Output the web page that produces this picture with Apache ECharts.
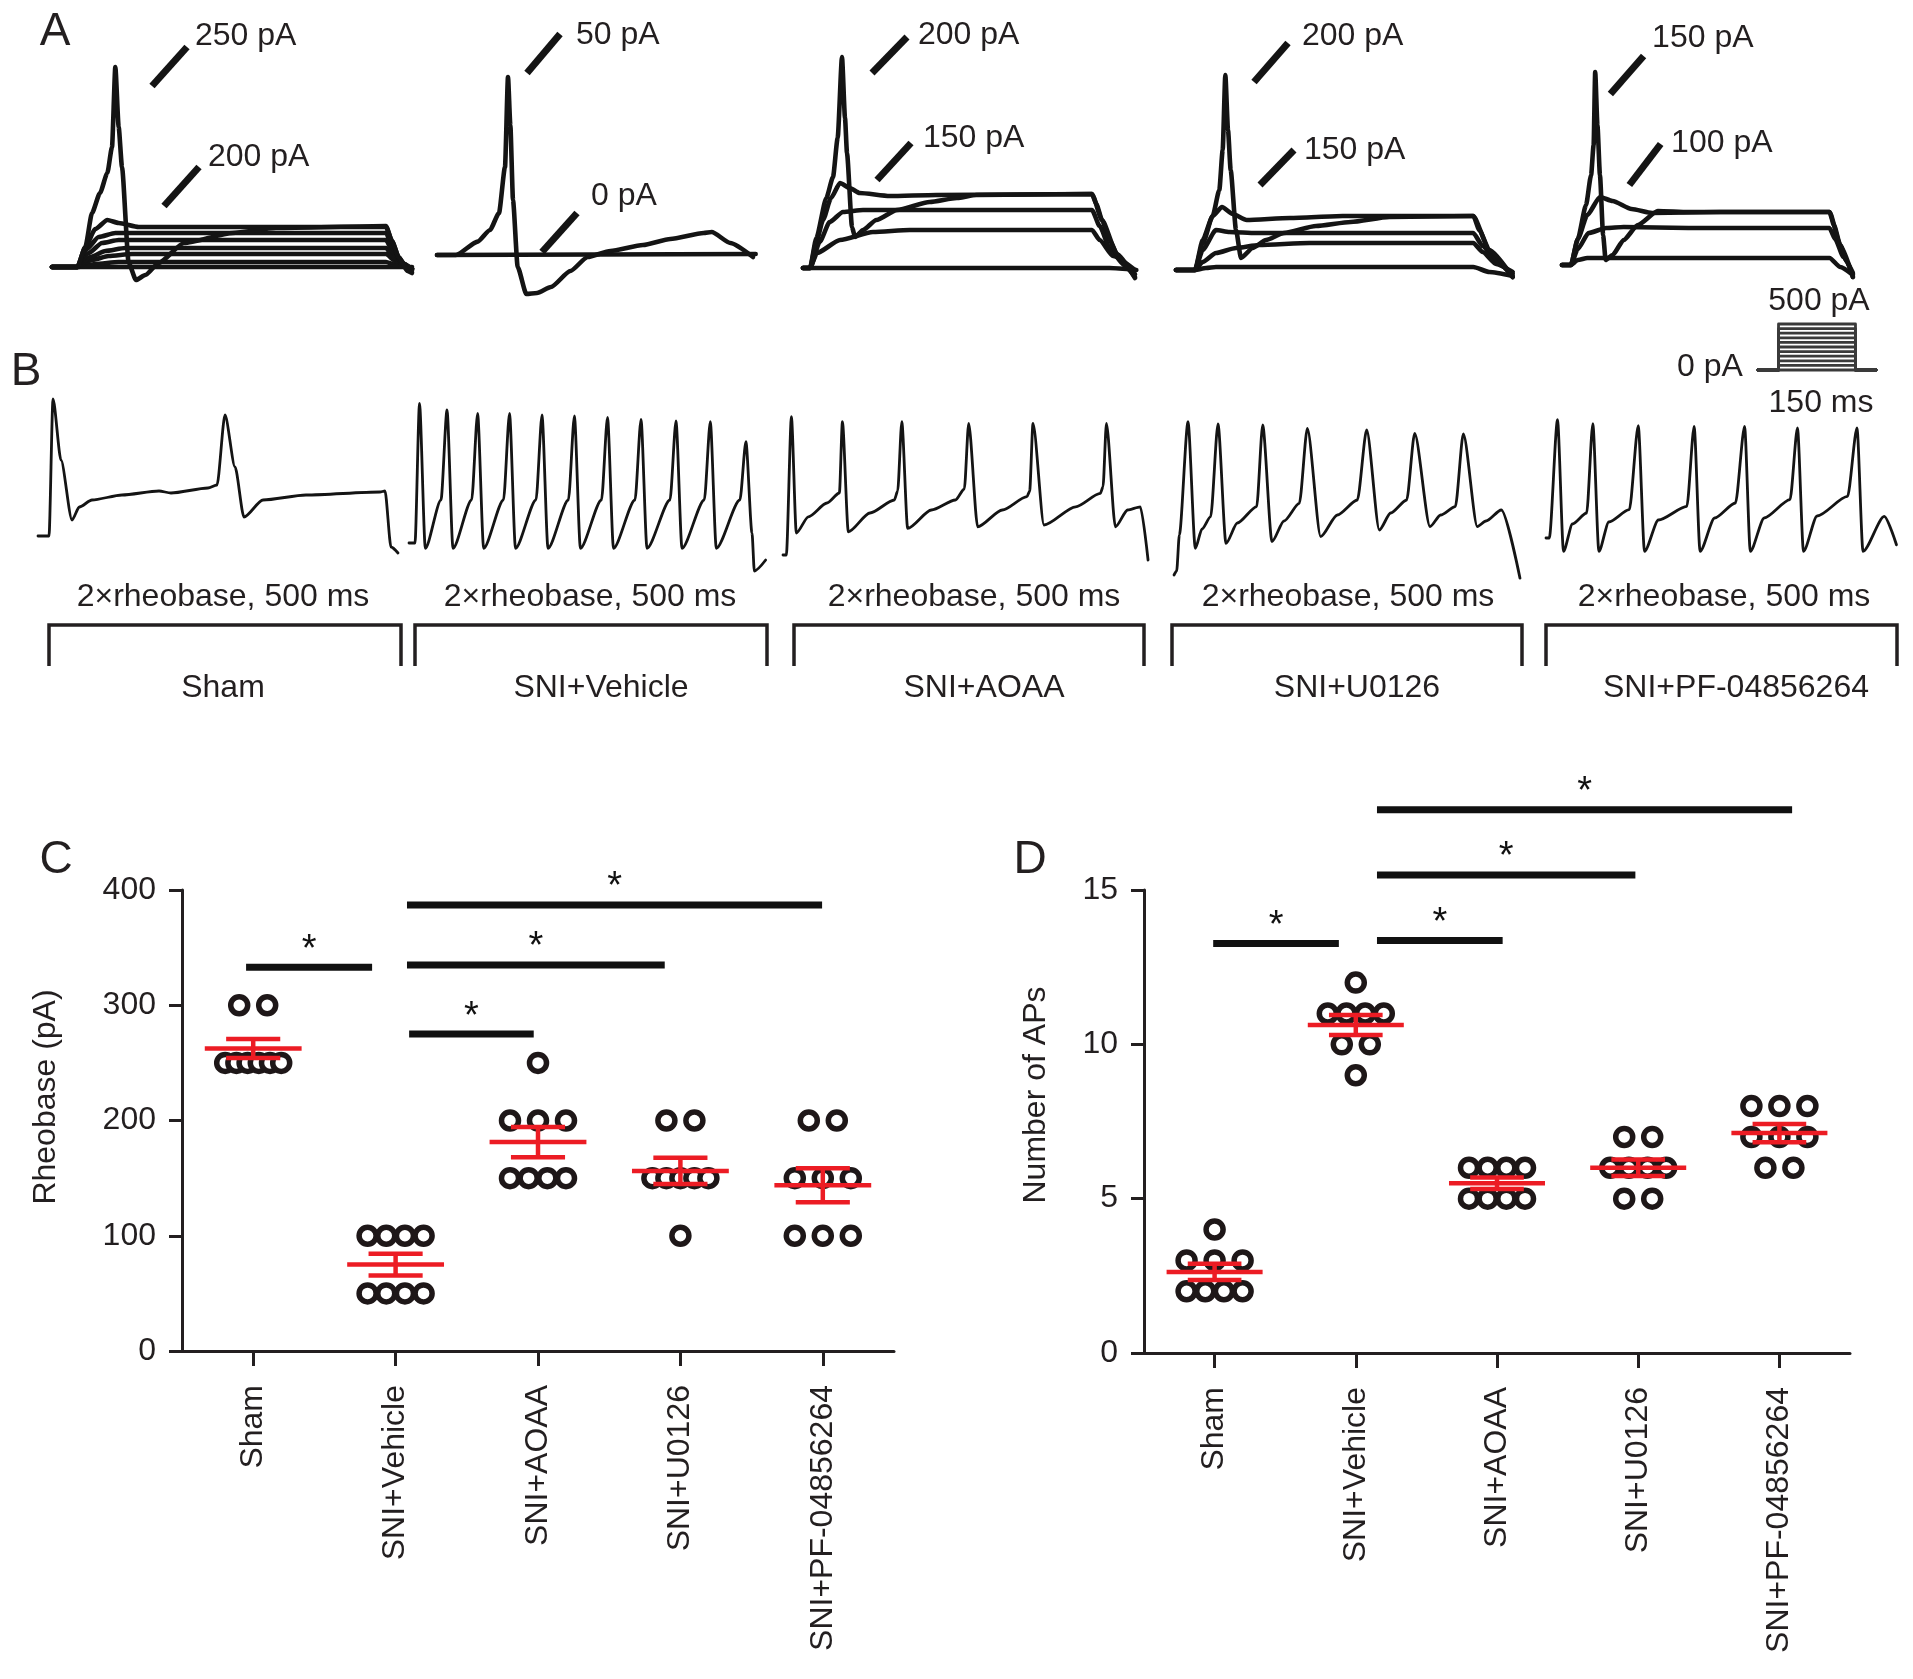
<!DOCTYPE html>
<html><head><meta charset="utf-8">
<script src="https://cdn.jsdelivr.net/npm/echarts@6/dist/echarts.min.js"></script>
<style>html,body{margin:0;padding:0;background:#fff}#c{width:1913px;height:1679px}</style>
</head><body><div id="c"></div><script>
// ---------------- DATA ----------------
const groups = ['Sham', 'SNI+Vehicle', 'SNI+AOAA', 'SNI+U0126', 'SNI+PF-04856264'];

// Panel C: rheobase (pA), one value per neuron
const rheoSham    = [300, 300, 250, 250, 250, 250, 250, 250];
const rheoVehicle = [100, 100, 100, 100, 50, 50, 50, 50];
const rheoAOAA    = [250, 200, 200, 200, 150, 150, 150, 150];
const rheoU0126   = [200, 200, 150, 150, 150, 150, 150, 100];
const rheoPF      = [200, 200, 150, 150, 150, 100, 100, 100];
const rheoTicks   = [0, 100, 200, 300, 400];

// Panel D: number of APs, one value per neuron
const apSham    = [4, 3, 3, 3, 2, 2, 2, 2];
const apVehicle = [12, 11, 11, 11, 11, 10, 10, 9];
const apAOAA    = [6, 6, 6, 6, 5, 5, 5, 5];
const apU0126   = [7, 7, 6, 6, 6, 6, 5, 5];
const apPF      = [8, 8, 8, 7, 7, 7, 6, 6];
const apTicks   = [0, 5, 10, 15];

// significance comparisons: [from group, to group, bar height]
const sigC = [[0, 1, 333], [1, 2, 275], [1, 3, 335], [1, 4, 387]];
const sigD = [[0, 1, 13.27], [1, 2, 13.36], [1, 3, 15.49], [1, 4, 17.6]];

// Panel A: membrane potential traces [time ms, mV]
const aShamSpike = [[0,-65],[38,-65],[50,-55],[60,-38],[72,-28],[83,-18],[90,-5],[95,35],[100,5],[105,-15],[115,-63],[126,-71.5],[140,-69],[160,-63],[198,-53],[271,-48],[336,-45.5],[501,-44.5],[510,-52],[520,-60],[533,-67],[540,-68]];
const aShamSub1 = [[0,-65],[38,-65],[50,-55],[65,-46],[83,-41.5],[100,-43],[130,-45],[501,-45],[510,-52],[520,-60],[533,-66],[540,-67]];
const aShamSub2 = [[0,-65],[38,-65],[52,-56],[70,-50],[95,-48],[501,-48],[512,-56],[525,-63],[540,-66]];
const aShamSub3 = [[0,-65],[38,-65],[55,-58],[75,-53],[100,-51.5],[501,-51.5],[512,-58],[525,-63],[540,-66]];
const aShamSub4 = [[0,-65],[38,-65],[58,-60],[80,-57],[110,-55.5],[501,-55.5],[512,-60],[527,-64],[540,-66]];
const aShamSub5 = [[0,-65],[38,-65],[60,-61.5],[85,-59.5],[120,-58.5],[501,-58.5],[515,-62],[540,-66]];
const aShamSub6 = [[0,-65],[38,-65],[65,-63.5],[100,-62.5],[501,-62.5],[515,-64],[540,-66]];
const aShamBase = [[0,-65],[540,-65]];

const aVehSpike = [[0,-65],[28.5,-65],[61,-58.3],[79.5,-52.5],[93,-44],[102,-21],[106.5,24],[110,0],[114,-37.5],[121,-71],[134,-84.5],[150,-84],[171,-81],[200,-73],[226,-66],[260,-63],[309,-60],[350,-57],[400,-54],[412,-53.5],[440,-59],[474,-66]];
const aVehBase = [[0,-65],[478,-64.5]];

const aAoaaSpike = [[0,-65],[10.5,-65],[20,-50],[35,-30],[45,-19.5],[52,0],[58.5,40.5],[63,10],[66,-7.5],[73.5,-44.5],[78,-49.5],[90,-46],[110,-41],[141,-36],[190,-32],[231,-30],[260,-28.5],[433.5,-28],[448.5,-41],[471,-58],[498,-70]];
const aAoaaSub1 = [[0,-65],[10.5,-65],[20,-52],[30,-41],[42,-30],[55.5,-22.5],[70,-25],[85,-27.5],[130,-29],[200,-28.5],[433.5,-28],[440,-33],[448.5,-41],[460,-51],[471,-58],[485,-65],[498,-69.5]];
const aAoaaSub2 = [[0,-65],[10.5,-65],[25,-52],[40,-42],[60,-37],[90,-36],[433.5,-36],[445,-44],[460,-55],[480,-63],[498,-68]];
const aAoaaSub3 = [[0,-65],[10.5,-65],[21,-57.5],[55.5,-51],[105,-47],[160,-46],[433.5,-46],[445,-51],[465,-59],[498,-66]];
const aAoaaBase = [[0,-65],[460,-65],[500,-66]];

const aU0126Spike = [[0,-65],[28.5,-65],[40,-52],[55,-38],[65,-25],[70,-5],[74,32.5],[78,5],[82,-15],[90,-45],[97.5,-59],[115,-54],[135,-50],[162,-46.5],[210,-43],[262,-41],[320,-38.5],[446,-38],[470,-55],[505,-68.5]];
const aU0126Sub1 = [[0,-65],[28.5,-65],[40,-50],[55,-38],[69,-33.5],[85,-37],[106,-40],[171,-39],[250,-38],[446,-38],[455,-45],[470,-55],[485,-62],[505,-68.5]];
const aU0126Sub2 = [[0,-65],[28.5,-65],[40,-55],[60,-45],[80,-46],[120,-46.5],[446,-46.5],[460,-53],[480,-61],[505,-67]];
const aU0126Sub3 = [[0,-65],[28.5,-65],[40,-61],[60,-56.5],[90,-54],[124.5,-52.5],[200,-51.5],[446,-51.5],[460,-56],[480,-62],[505,-66]];
const aU0126Base = [[0,-65],[28.5,-65],[45,-64],[60,-63.5],[446,-63.5],[470,-66],[505,-68]];

const aPfSpike = [[0,-65],[14,-65],[25,-52],[38,-35],[46,-20],[50,-5],[52.5,31.5],[56,5],[60,-20],[65,-50],[69,-62.5],[80,-60],[97.5,-52.5],[120,-45],[151.5,-38],[200,-38.5],[423,-38.5],[440,-55],[460,-71]];
const aPfSub1 = [[0,-65],[14,-65],[25,-52],[40,-40],[60,-31],[80,-33],[110,-37],[142.5,-39],[250,-38.5],[423,-38.5],[430,-45],[440,-55],[450,-63],[460,-71]];
const aPfSub2 = [[0,-65],[14,-65],[25,-57],[42,-49],[70,-46.5],[97.5,-46],[200,-46.5],[423,-46.5],[432,-52],[445,-61],[460,-69]];
const aPfBase = [[0,-65],[14,-65],[25,-62.5],[40,-61.5],[423,-61.5],[440,-66],[460,-70]];

// Panel A pointer labels: [t1, v1, t2, v2, text t, text v, label]
const annSham  = [[150,25.5,202.5,45,214.5,50.5,'250 pA'],[168,-34.5,220.5,-15,234,-10,'200 pA']];
const annVeh   = [[135,26,184.5,45.5,208.5,45,'50 pA'],[157.5,-63.5,210,-44,231,-35.5,'0 pA']];
const annAoaa  = [[103.5,32.5,156,50.5,172.5,51.5,'200 pA'],[111,-21,162,-2.5,180,0,'150 pA']];
const annU0126 = [[117,29,168,48.5,189,52,'200 pA'],[126,-22.5,177,-5,192,-5,'150 pA']];
const annPf    = [[76.5,20.5,129,39.5,142.5,48.5,'150 pA'],[106.5,-25,156,-4.5,172.5,-4,'100 pA']];

// Panel B: AP trains at 2x rheobase [time ms, mV]
const bSham = [[0,-65],[16.5,-65],[22.5,3.5],[34.5,-27],[51,-57],[62,-50.5],[81,-47],[126,-44.5],[181.5,-42.5],[199.5,-43.5],[255,-41],[268.5,-39.5],[280.5,-4.5],[295.5,-30.5],[309,-55.5],[337.5,-47],[402,-44.5],[513,-43],[520.5,-42.5],[529.5,-70.5],[540,-73.5]];
const bVehicle = [[0,-65],[9,-65],[15.75,4.85],[24.5,-67.65],[48,-43.5],[57,1.5],[66,-67.65],[94,-43.5],[102.9,-0.15],[112,-67.65],[141.75,-43.5],[150.75,-0.15],[159.75,-67.65],[190.5,-43.5],[199.5,-1],[208.5,-67.65],[239.1,-43.5],[248.1,-1.5],[257.1,-67.65],[288.75,-43.5],[297.75,-2.15],[306.75,-67.65],[339,-43.5],[348,-3.15],[357,-67.65],[391.5,-43.5],[400.5,-4],[409.5,-67.65],[442.95,-43.5],[451.95,-4.35],[460.95,-67.65],[496.35,-43.5],[505.35,-14.35],[514.5,-60],[518,-79],[535,-73.5]];
const bAOAA = [[0,-65],[5,-65],[12.6,4.15],[20,-54],[38,-45.9],[66,-39],[84.6,-34],[89.1,1.65],[98,-53.4],[130.5,-44],[167,-37.5],[172,-33],[178.2,1.65],[187,-51.7],[222.6,-42.5],[258.6,-37.5],[272,-32],[278.5,0.85],[292,-50.9],[329,-42.5],[366,-35.8],[370,-33],[375,0.85],[391.5,-50],[439,-40.9],[476,-34.2],[480,-31],[485.1,0.85],[498.6,-50.9],[517,-42.5],[536,-40.9],[547.6,-67.5]];
const bU0126 = [[0,-65],[4,-63],[8,-45],[21,11.65],[32,-51.7],[42,-42],[55,-35.8],[66,10.5],[78,-49.2],[95,-39],[124,-30.8],[133,10],[147,-48.3],[165,-38],[188,-29.2],[200,8.3],[220,-45.8],[245,-35],[275,-27.5],[289,7.5],[308,-42.5],[325,-34],[349,-27.5],[361,5.8],[384,-40.8],[400,-35],[422,-30.8],[434,5.5],[455,-40.8],[468,-38],[491,-32.5],[519,-66.6]];
const bPF = [[0,-65],[5,-65],[17.4,-5.85],[26.5,-71.7],[40,-58],[61.5,-52.5],[70.8,-7.85],[80,-71.7],[95,-57],[126,-50.85],[139.5,-8.85],[149,-71.7],[170,-56],[213,-49.2],[224,-9.2],[233,-71.7],[255,-55],[286.5,-47.5],[300.3,-9.2],[309,-71.7],[330,-55],[369,-45.85],[380.3,-10],[389.4,-71.7],[410,-54],[456,-44.2],[470.3,-10],[479.4,-71.7],[511.5,-54.2],[530,-68.4]];

// stimulus protocol inset: current steps (pA) and timing (ms)
const stepLevels = [0, 50, 100, 150, 200, 250, 300, 350, 400, 450, 500];
const stepTiming = [0, 40, 190, 230]; // start, onset, offset, end

// ---------------- LAYOUT / STYLE ----------------
const FONT = '"Liberation Sans", Arial, Helvetica, sans-serif';
const INK = '#231f20';
const TRACE = '#141414';
const RED = '#ec1c24';
const layoutA = [{left:52, base:267},{left:437, base:255},{left:803, base:268},{left:1176, base:270},{left:1562, base:265}];
const layoutB = [{left:38, base:536},{left:409, base:543},{left:783, base:555},{left:1174, base:575},{left:1546, base:538}];
// significance bar end offsets (in category widths) relative to the compared groups
const sigEndsC = [[-0.05, -0.165], [0.095, -0.03], [0.08, -0.11], [0.08, -0.005]];
const sigEndsD = [[-0.01, -0.12], [0.15, 0.04], [0.15, -0.02], [0.15, 0.09]];

const tracesA = [
  [aShamBase, aShamSub6, aShamSub5, aShamSub4, aShamSub3, aShamSub2, aShamSub1, aShamSpike],
  [aVehBase, aVehSpike],
  [aAoaaBase, aAoaaSub3, aAoaaSub2, aAoaaSub1, aAoaaSpike],
  [aU0126Base, aU0126Sub3, aU0126Sub2, aU0126Sub1, aU0126Spike],
  [aPfBase, aPfSub2, aPfSub1, aPfSpike]
];
const annsA = [annSham, annVeh, annAoaa, annU0126, annPf];
const tracesB = [bSham, bVehicle, bAOAA, bU0126, bPF];

const grids = [], xAxes = [], yAxes = [], series = [];
function hiddenAxes(gi, xmin, xmax, ymin, ymax) {
  xAxes.push({type:'value', gridIndex:gi, min:xmin, max:xmax, show:false});
  yAxes.push({type:'value', gridIndex:gi, min:ymin, max:ymax, show:false});
}
function traceSeries(data, gi, lw, color, smooth) {
  return {type:'line', xAxisIndex:gi, yAxisIndex:gi, data, symbol:'none', showSymbol:false,
    smooth: smooth || false, smoothMonotone: smooth ? 'x' : undefined,
    lineStyle:{color: color || TRACE, width:lw, join:'round', cap:'round'}, clip:false, silent:true, z:2};
}
// Panel A grids (2 px per mV, 1.5 ms per px)
layoutA.forEach(L => {
  grids.push({left:L.left, top:L.base - 250, width:370, height:310});
  hiddenAxes(grids.length - 1, 0, 555, -95, 60);
});
// Panel B grids
layoutB.forEach(L => {
  grids.push({left:L.left, top:L.base - 170, width:370, height:220});
  hiddenAxes(grids.length - 1, 0, 555, -90, 20);
});
// stimulus inset grid
grids.push({left:1758, top:324, width:118, height:46});
hiddenAxes(10, stepTiming[0], stepTiming[3], 0, 500);

tracesA.forEach((list, gi) => list.forEach(d => series.push(traceSeries(d, gi, 4.6, TRACE, 0.2))));
annsA.forEach((anns, gi) => {
  series.push({type:'custom', xAxisIndex:gi, yAxisIndex:gi, clip:false, silent:true, z:3,
    data: anns.map(a => [a[0], a[1], a[2], a[3]]),
    renderItem: (params, api) => {
      const a = anns[params.dataIndex];
      const p1 = api.coord([a[0], a[1]]), p2 = api.coord([a[2], a[3]]), pt = api.coord([a[4], a[5]]);
      return {type:'group', children:[
        {type:'line', shape:{x1:p1[0], y1:p1[1], x2:p2[0], y2:p2[1]}, style:{stroke:TRACE, lineWidth:7}},
        {type:'text', x:pt[0], y:pt[1], style:{text:a[6], font:'32px ' + FONT, fill:INK, align:'left', verticalAlign:'middle'}}
      ]};
    }});
});
tracesB.forEach((d, k) => series.push(traceSeries(d, 5 + k, 2.8, TRACE, 0.25)));
stepLevels.forEach(Lv => {
  const t = stepTiming;
  series.push(traceSeries([[t[0],0],[t[1],0],[t[1],Lv],[t[2],Lv],[t[2],0],[t[3],0]], 10, 2.8, '#3a3a3a'));
});

// ---- Panels C and D ----
function swarm(values, gi) {
  const byVal = {};
  values.forEach(v => { (byVal[v] = byVal[v] || []).push(v); });
  const out = [];
  Object.keys(byVal).forEach(k => {
    const n = byVal[k].length;
    const sp = n > 1 ? Math.min(28, 56 / (n - 1)) : 0;
    for (let j = 0; j < n; j++) out.push({value:[gi, Number(k)], symbolOffset:[(j - (n - 1) / 2) * sp, 0]});
  });
  return out;
}
function meanSem(v) {
  const n = v.length, m = v.reduce((a, b) => a + b, 0) / n;
  const sd = Math.sqrt(v.reduce((a, b) => a + (b - m) * (b - m), 0) / (n - 1));
  return [m, sd / Math.sqrt(n)];
}
function dotPanel(gi, sets, sig, ends) {
  const pts = [];
  sets.forEach((vals, i) => pts.push(...swarm(vals, i)));
  series.push({type:'scatter', xAxisIndex:gi, yAxisIndex:gi, data:pts, symbol:'circle', symbolSize:17,
    itemStyle:{color:'#ffffff', borderColor:'#1e1718', borderWidth:5.5, opacity:1}, z:3, silent:true});
  const stats = sets.map((vals, i) => { const s = meanSem(vals); return [i, s[0], s[1]]; });
  series.push({type:'custom', xAxisIndex:gi, yAxisIndex:gi, data:stats, z:4, silent:true, clip:false,
    renderItem: (params, api) => {
      const i = api.value(0), m = api.value(1), e = api.value(2);
      const c = api.coord([i, m]); const band = api.size([1, 0])[0];
      const hi = api.coord([i, m + e])[1], lo = api.coord([i, m - e])[1];
      const st = {stroke:RED, lineWidth:4.5};
      return {type:'group', children:[
        {type:'line', shape:{x1:c[0] - 0.34 * band, y1:c[1], x2:c[0] + 0.34 * band, y2:c[1]}, style:st},
        {type:'line', shape:{x1:c[0] - 0.19 * band, y1:hi, x2:c[0] + 0.19 * band, y2:hi}, style:st},
        {type:'line', shape:{x1:c[0] - 0.19 * band, y1:lo, x2:c[0] + 0.19 * band, y2:lo}, style:st},
        {type:'line', shape:{x1:c[0], y1:hi, x2:c[0], y2:lo}, style:st}
      ]};
    }});
  series.push({type:'custom', xAxisIndex:gi, yAxisIndex:gi, data:sig.map(s => [s[0], s[1], s[2]]), z:4, silent:true, clip:false,
    renderItem: (params, api) => {
      const s = sig[params.dataIndex], e = ends[params.dataIndex];
      const band = api.size([1, 0])[0];
      const a = api.coord([s[0], s[2]]), b = api.coord([s[1], s[2]]);
      const x1 = a[0] + e[0] * band, x2 = b[0] + e[1] * band;
      return {type:'group', children:[
        {type:'line', shape:{x1:x1, y1:a[1], x2:x2, y2:a[1]}, style:{stroke:'#111', lineWidth:7}},
        {type:'text', x:(x1 + x2) / 2, y:a[1] - 17, style:{text:'*', font:'38px ' + FONT, fill:'#111', align:'center', verticalAlign:'middle'}}
      ]};
    }});
}
function dotAxes(gi, ticks) {
  const ax = {lineStyle:{color:INK, width:3}};
  xAxes.push({type:'category', gridIndex:gi, data:groups, axisLine:{show:true, ...ax},
    axisTick:{show:true, alignWithLabel:true, length:15, ...ax},
    axisLabel:{rotate:90, margin:34, fontSize:32, fontFamily:FONT, color:INK}, splitLine:{show:false}});
  yAxes.push({type:'value', gridIndex:gi, min:ticks[0], max:ticks[ticks.length - 1], interval:ticks[1] - ticks[0],
    axisLine:{show:true, ...ax}, axisTick:{show:true, length:13, ...ax},
    axisLabel:{margin:26, fontSize:32, fontFamily:FONT, color:INK}, splitLine:{show:false}});
}
grids.push({left:182, top:890, width:712, height:461});
dotAxes(11, rheoTicks);
dotPanel(11, [rheoSham, rheoVehicle, rheoAOAA, rheoU0126, rheoPF], sigC, sigEndsC);
grids.push({left:1144, top:890, width:706, height:463});
dotAxes(12, apTicks);
dotPanel(12, [apSham, apVehicle, apAOAA, apU0126, apPF], sigD, sigEndsD);

// ---- annotations (text & brackets) ----
const graphic = [];
function txt(x, y, text, size, rot) {
  graphic.push({type:'text', x, y, rotation: rot || 0, silent:true,
    style:{text, font:size + 'px ' + FONT, fill:INK, align:'center', verticalAlign:'middle', textAlign:'center', textVerticalAlign:'middle'}});
}
txt(55, 32, 'A', 46); txt(26, 372, 'B', 46); txt(56, 860, 'C', 46); txt(1030, 860, 'D', 46);
txt(1819, 301, '500 pA', 32); txt(1710, 367, '0 pA', 32); txt(1821, 403, '150 ms', 32);
const bTextX = [223, 590, 974, 1348, 1724];
const bLabelX = [223, 601, 984, 1357, 1736];
const brackets = [[49, 401], [415, 767], [794, 1144], [1172, 1522], [1546, 1897]];
groups.forEach((g, i) => {
  txt(bTextX[i], 597, '2\u00d7rheobase, 500 ms', 32);
  txt(bLabelX[i], 688, g, 32);
  const b = brackets[i];
  graphic.push({type:'polyline', silent:true, shape:{points:[[b[0], 666], [b[0], 625], [b[1], 625], [b[1], 666]]},
    style:{stroke:INK, lineWidth:3.5, fill:null}});
});
txt(46, 1097, 'Rheobase (pA)', 32, Math.PI / 2);
txt(1036, 1095, 'Number of APs', 32, Math.PI / 2);

const chart = echarts.init(document.getElementById('c'), null, {renderer:'canvas'});
chart.setOption({animation:false, backgroundColor:'#ffffff', grid:grids, xAxis:xAxes, yAxis:yAxes, series, graphic});
</script></body></html>
